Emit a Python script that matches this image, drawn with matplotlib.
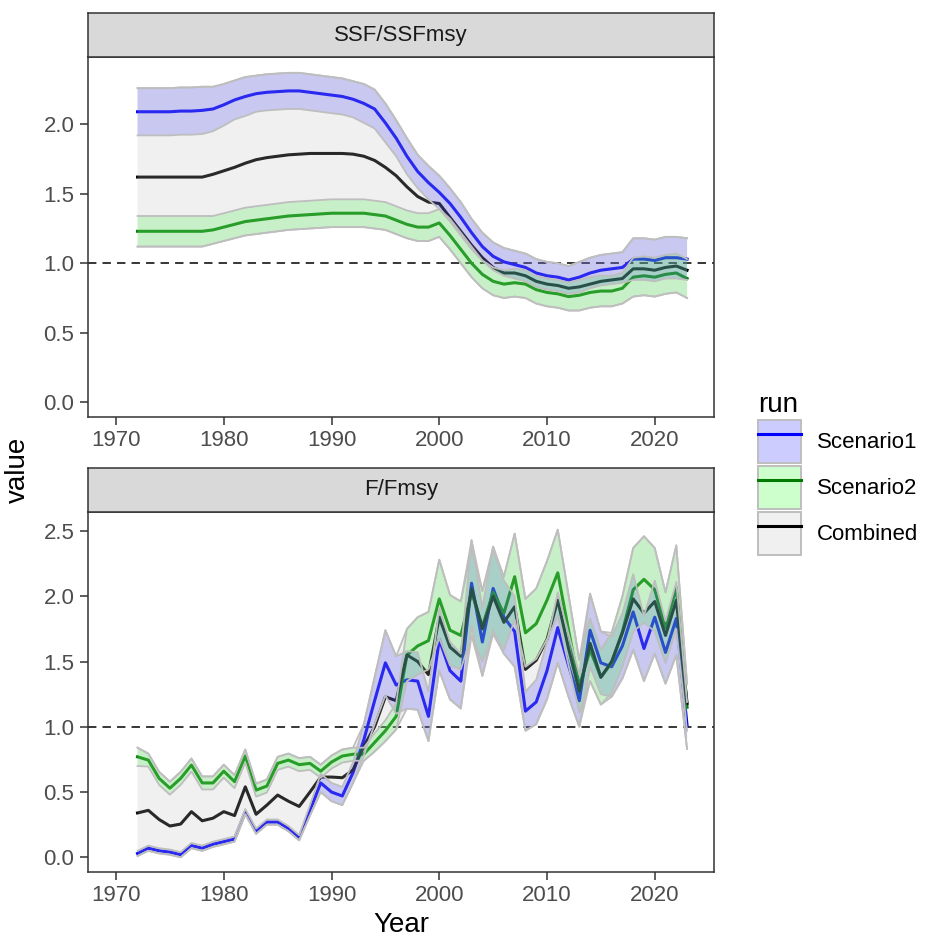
import numpy as np
import matplotlib.pyplot as plt
from matplotlib.patches import Patch
from matplotlib.lines import Line2D

plt.rcParams['font.family'] = ['Liberation Sans', 'DejaVu Sans']

years = np.arange(1972, 2024)
runs = ['Scenario1', 'Scenario2', 'Combined']

# ---- SSF/SSFmsy (estimate and half-width of the band) ----
ssf_s1 = [2.09, 2.09, 2.09, 2.09, 2.095, 2.095, 2.10, 2.11, 2.14, 2.175,
          2.20, 2.22, 2.23, 2.235, 2.24, 2.24, 2.23, 2.22, 2.21, 2.20,
          2.18, 2.15, 2.11, 2.01, 1.90, 1.77, 1.66, 1.58, 1.51, 1.43,
          1.33, 1.22, 1.12, 1.05, 1.01, 0.99, 0.97, 0.93, 0.91, 0.90,
          0.88, 0.90, 0.93, 0.95, 0.96, 0.97, 1.03, 1.03, 1.02, 1.04,
          1.04, 1.03]
ssf_s1_hw = [0.17] * 7 + [0.16, 0.15, 0.14, 0.14, 0.13] + [0.13] * 9 + \
            [0.14, 0.14, 0.14, 0.13, 0.13, 0.12, 0.12, 0.12, 0.11, 0.11] + \
            [0.10] * 10 + [0.11] * 5 + [0.15] * 6

ssf_s2 = [1.23, 1.23, 1.23, 1.23, 1.23, 1.23, 1.23, 1.24, 1.26, 1.28,
          1.30, 1.31, 1.32, 1.33, 1.34, 1.345, 1.35, 1.355, 1.36, 1.36,
          1.36, 1.36, 1.35, 1.34, 1.31, 1.28, 1.26, 1.26, 1.29, 1.20,
          1.10, 1.00, 0.92, 0.87, 0.85, 0.86, 0.85, 0.81, 0.79, 0.78,
          0.76, 0.77, 0.79, 0.80, 0.80, 0.82, 0.90, 0.91, 0.90, 0.92,
          0.93, 0.89]
ssf_s2_hw = [0.11] * 7 + [0.10] * 34 + [0.11] * 5 + [0.14] * 6

ssf_comb = [1.62, 1.62, 1.62, 1.62, 1.62, 1.62, 1.62, 1.64, 1.665, 1.69,
            1.72, 1.745, 1.76, 1.77, 1.78, 1.785, 1.79, 1.79, 1.79, 1.79,
            1.785, 1.77, 1.74, 1.69, 1.63, 1.55, 1.48, 1.44, 1.43, 1.33,
            1.23, 1.13, 1.04, 0.97, 0.93, 0.93, 0.91, 0.87, 0.85, 0.84,
            0.82, 0.83, 0.85, 0.87, 0.88, 0.89, 0.96, 0.96, 0.95, 0.97,
            0.98, 0.95]

# ---- F/Fmsy ----
f_s1 = [0.03, 0.07, 0.05, 0.04, 0.02, 0.09, 0.07, 0.10, 0.12, 0.14,
        0.35, 0.20, 0.27, 0.27, 0.22, 0.15, 0.36, 0.57, 0.50, 0.47,
        0.65, 0.90, 1.20, 1.49, 1.32, 1.36, 1.35, 1.08, 1.67, 1.43,
        1.35, 2.10, 1.65, 2.06, 1.84, 1.73, 1.12, 1.19, 1.43, 1.76,
        1.47, 1.20, 1.74, 1.49, 1.46, 1.62, 1.88, 1.60, 1.84, 1.57,
        1.83, 1.01]
f_s1_hw = [0.02] * 16 + \
          [0.04, 0.07, 0.07, 0.07, 0.08, 0.12, 0.18, 0.25, 0.22, 0.22,
           0.22, 0.19, 0.24, 0.22, 0.21, 0.33, 0.26, 0.32, 0.28, 0.27,
           0.15, 0.17, 0.22, 0.27, 0.24, 0.20, 0.28, 0.24, 0.23, 0.25,
           0.29, 0.25, 0.28, 0.24, 0.28, 0.18]

f_s2 = [0.77, 0.745, 0.605, 0.53, 0.605, 0.707, 0.57, 0.57, 0.66, 0.58,
        0.776, 0.515, 0.546, 0.72, 0.745, 0.71, 0.72, 0.66, 0.73, 0.776,
        0.79, 0.79, 0.88, 0.97, 1.08, 1.55, 1.62, 1.66, 1.98, 1.74,
        1.70, 2.03, 1.77, 2.03, 1.87, 2.15, 1.72, 1.79, 1.97, 2.18,
        1.74, 1.31, 1.59, 1.38, 1.49, 1.73, 2.05, 2.13, 2.05, 1.76,
        2.07, 1.15]
f_s2_hw = [0.07] + [0.05] * 21 + \
          [0.07, 0.08, 0.10, 0.20, 0.22, 0.22, 0.30, 0.27, 0.26, 0.33,
           0.27, 0.32, 0.28, 0.33, 0.26, 0.27, 0.30, 0.33, 0.27, 0.20,
           0.24, 0.21, 0.23, 0.27, 0.32, 0.33, 0.32, 0.27, 0.32, 0.18]

f_comb = [0.34, 0.36, 0.29, 0.24, 0.255, 0.35, 0.28, 0.30, 0.35, 0.32,
          0.54, 0.33, 0.40, 0.477, 0.43, 0.39, 0.50, 0.615, 0.615, 0.61,
          0.67, 0.85, 1.00, 1.23, 1.20, 1.55, 1.50, 1.40, 1.84, 1.61,
          1.54, 2.06, 1.75, 2.00, 1.80, 1.92, 1.44, 1.51, 1.67, 1.97,
          1.60, 1.27, 1.64, 1.38, 1.50, 1.72, 1.98, 1.87, 1.96, 1.70,
          1.97, 1.18]

line_cols = {'Scenario1': '#0000FF', 'Scenario2': '#007A00', 'Combined': '#000000'}
fill_cols = {'Scenario1': (0, 0, 1, 0.2), 'Scenario2': (0, 1, 0, 0.2),
             'Combined': (0.745, 0.745, 0.745, 0.22)}
edge_col = '#BEBEBE'


def bands(s1, s1_hw, s2, s2_hw):
    s1, s1_hw, s2, s2_hw = map(np.array, (s1, s1_hw, s2, s2_hw))
    lo1, hi1 = s1 - s1_hw, s1 + s1_hw
    lo2, hi2 = s2 - s2_hw, s2 + s2_hw
    return {'Scenario1': (lo1, hi1), 'Scenario2': (lo2, hi2),
            'Combined': (np.minimum(lo1, lo2), np.maximum(hi1, hi2))}


def panel(ax, est, bnd, ylim, yticks):
    for r in runs:
        ax.plot(years, est[r], color=line_cols[r], lw=2.2, zorder=2)
    ax.axhline(1.0, color='black', ls=(0, (5.5, 4)), lw=1.1, zorder=1.5)
    for r in runs:
        lo, hi = bnd[r]
        ax.fill_between(years, lo, hi, facecolor=fill_cols[r], edgecolor='none', zorder=3)
        ax.plot(years, lo, color=edge_col, lw=1.3, zorder=3.5)
        ax.plot(years, hi, color=edge_col, lw=1.3, zorder=3.5)
    ax.set_xlim(1967.4, 2025.5)
    ax.set_ylim(*ylim)
    ax.set_xticks([1970, 1980, 1990, 2000, 2010, 2020])
    ax.set_yticks(yticks)
    ax.set_yticklabels(['%.1f' % v for v in yticks])
    ax.tick_params(labelsize=16, labelcolor='#4D4D4D', color='#333333',
                   length=5.8, width=1.1, pad=4)
    for s in ax.spines.values():
        s.set_color('#333333')
        s.set_linewidth(1.1)


def strip(fig, rect, label):
    sax = fig.add_axes(rect)
    sax.set_facecolor('#D9D9D9')
    sax.set_xticks([])
    sax.set_yticks([])
    for s in sax.spines.values():
        s.set_color('#333333')
        s.set_linewidth(1.1)
    sax.text(0.5, 0.5, label, ha='center', va='center', fontsize=16, color='#1A1A1A')


W, H = 930, 938
fig = plt.figure(figsize=(W / 100, H / 100), dpi=100)

left, right = 88, 714
ax1 = fig.add_axes([left / W, 1 - 416.7 / H, (right - left) / W, (416.7 - 57) / H])
ax2 = fig.add_axes([left / W, 1 - 871.7 / H, (right - left) / W, (871.7 - 511.7) / H])
strip(fig, [left / W, 1 - 57 / H, (right - left) / W, 44 / H], 'SSF/SSFmsy')
strip(fig, [left / W, 1 - 511.7 / H, (right - left) / W, 44 / H], 'F/Fmsy')

panel(ax1, {'Scenario1': ssf_s1, 'Scenario2': ssf_s2, 'Combined': ssf_comb},
      bands(ssf_s1, ssf_s1_hw, ssf_s2, ssf_s2_hw), (-0.104, 2.484),
      [0.0, 0.5, 1.0, 1.5, 2.0])
panel(ax2, {'Scenario1': f_s1, 'Scenario2': f_s2, 'Combined': f_comb},
      bands(f_s1, f_s1_hw, f_s2, f_s2_hw), (-0.11, 2.648),
      [0.0, 0.5, 1.0, 1.5, 2.0, 2.5])

fig.text(18 / W, 1 - 470 / H, 'value', rotation=90, ha='center', va='center', fontsize=20)
fig.text((left + right) / 2 / W, 1 - 925 / H, 'Year', ha='center', va='center', fontsize=20)

handles = [(Patch(facecolor=fill_cols[r], edgecolor=edge_col, lw=1.4),
            Line2D([], [], color=line_cols[r], lw=2.2)) for r in runs]
leg = fig.legend(handles, runs, title='run', loc='center left',
                 bbox_to_anchor=(758 / W, 1 - 473 / H), frameon=False,
                 fontsize=16, title_fontsize=20, handlelength=1.95,
                 handleheight=2.6, labelspacing=0.12, handletextpad=0.7,
                 borderpad=0, borderaxespad=0, alignment='left')

fig.savefig('out.png', dpi=100)
